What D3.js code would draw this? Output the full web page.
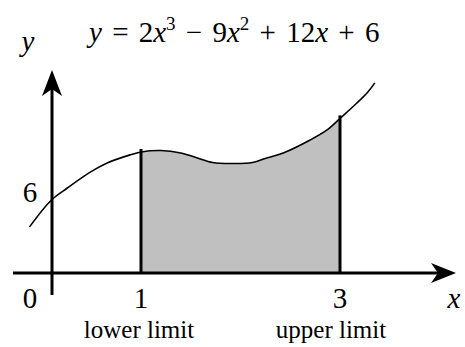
<!DOCTYPE html>
<html>
<head>
<meta charset="utf-8">
<script src="https://cdn.jsdelivr.net/npm/d3@7"></script>
<style>
  html, body { margin: 0; padding: 0; background: #fff; }
  svg { display: block; font-family: "Liberation Serif", "Times New Roman", serif; }
</style>
</head>
<body>
<svg id="chart"></svg>
<script>
// Curve points (x, y in data units)
const curveX = [-0.12, 0.1, 0.26, 0.49, 0.66, 0.89, 1.0, 1.2, 1.4, 1.56, 1.72, 1.92, 2.12, 2.27, 2.43, 2.7, 2.87, 3.0, 3.17, 3.28, 3.35];
const curveY = [3.2, 6.0, 7.25, 8.9, 9.85, 10.7, 11.0, 11.15, 10.9, 10.4, 9.9, 9.8, 9.9, 10.4, 10.9, 12.25, 13.3, 14.5, 16.1, 17.25, 18.2];

const limits = [1, 3];
const limitLabels = ["lower limit", "upper limit"];
const xTickLabels = ["0", "1", "3"];
const yTickValues = [6];

const width = 465, height = 347;
const svg = d3.select("#chart").attr("width", width).attr("height", height);

// schematic scales
const x = d3.scaleLinear().domain([1, 3]).range([141, 340]);
const y = d3.scaleLinear().domain([6, 11]).range([200, 152]);

const axisLeft = 52;   // pixel position of the vertical axis
const axisBase = 273;  // pixel position of the horizontal axis

const points = curveX.map((d, i) => ({ x: d, y: curveY[i] }));

// shaded region between the limits
svg.append("clipPath").attr("id", "limitsClip")
  .append("rect")
  .attr("x", x(limits[0]))
  .attr("y", 0)
  .attr("width", x(limits[1]) - x(limits[0]))
  .attr("height", height);

const area = d3.area()
  .x(d => x(d.x))
  .y0(axisBase)
  .y1(d => y(d.y))
  .curve(d3.curveCatmullRom);

svg.append("path")
  .datum(points)
  .attr("d", area)
  .attr("fill", "#c0c0c0")
  .attr("clip-path", "url(#limitsClip)");

// the curve
const line = d3.line()
  .x(d => x(d.x))
  .y(d => y(d.y))
  .curve(d3.curveCatmullRom);

svg.append("path")
  .datum(points)
  .attr("d", line)
  .attr("fill", "none")
  .attr("stroke", "#000")
  .attr("stroke-width", 1.6);

// vertical limit lines
limits.forEach((lim, i) => {
  const idx = curveX.indexOf(lim);
  svg.append("line")
    .attr("x1", x(lim)).attr("x2", x(lim))
    .attr("y1", axisBase)
    .attr("y2", y(curveY[idx]) - 3)
    .attr("stroke", "#000")
    .attr("stroke-width", 3);

  svg.append("text")
    .attr("x", x(lim) + (i === 0 ? -2 : -9))
    .attr("y", 338)
    .attr("text-anchor", "middle")
    .attr("font-size", 25)
    .text(limitLabels[i]);
});

// axes
svg.append("line")
  .attr("x1", 13).attr("x2", 440)
  .attr("y1", axisBase).attr("y2", axisBase)
  .attr("stroke", "#000").attr("stroke-width", 3);

svg.append("line")
  .attr("x1", axisLeft).attr("x2", axisLeft)
  .attr("y1", 295).attr("y2", 85)
  .attr("stroke", "#000").attr("stroke-width", 3);

// arrow heads
svg.append("path")
  .attr("d", `M${axisLeft},70 L${axisLeft + 10},96 L${axisLeft},89 L${axisLeft - 10},96 Z`)
  .attr("fill", "#000");

svg.append("path")
  .attr("d", `M456,${axisBase} L431,${axisBase - 10} L438,${axisBase} L431,${axisBase + 10} Z`)
  .attr("fill", "#000");

// tick labels
const tickPos = [axisLeft - 22, x(1), x(3)];
xTickLabels.forEach((t, i) => {
  svg.append("text")
    .attr("x", tickPos[i])
    .attr("y", 308)
    .attr("text-anchor", "middle")
    .attr("font-size", 29)
    .text(t);
});

yTickValues.forEach(v => {
  svg.append("text")
    .attr("x", axisLeft - 22)
    .attr("y", y(v) + 2)
    .attr("text-anchor", "middle")
    .attr("font-size", 29)
    .text(v);
});

// axis names
svg.append("text")
  .attr("x", 28).attr("y", 51)
  .attr("text-anchor", "middle")
  .attr("font-size", 29)
  .attr("font-style", "italic")
  .text("y");

svg.append("text")
  .attr("x", 454).attr("y", 308)
  .attr("text-anchor", "middle")
  .attr("font-size", 29)
  .attr("font-style", "italic")
  .text("x");

// equation title
const title = svg.append("text")
  .attr("x", 89).attr("y", 42)
  .attr("font-size", 29)
  .attr("word-spacing", 3);

const parts = [
  { t: "y", i: true }, { t: " = 2" }, { t: "x", i: true }, { t: "3", sup: true },
  { t: " \u2212 9" }, { t: "x", i: true }, { t: "2", sup: true },
  { t: " + 12" }, { t: "x", i: true }, { t: " + 6" }
];
let raised = false;
parts.forEach(p => {
  const ts = title.append("tspan").text(p.t);
  if (p.i) ts.attr("font-style", "italic");
  if (p.sup) {
    ts.attr("font-size", 19).attr("dy", -12);
    raised = true;
  } else if (raised) {
    ts.attr("dy", 12);
    raised = false;
  }
});
</script>
</body>
</html>
